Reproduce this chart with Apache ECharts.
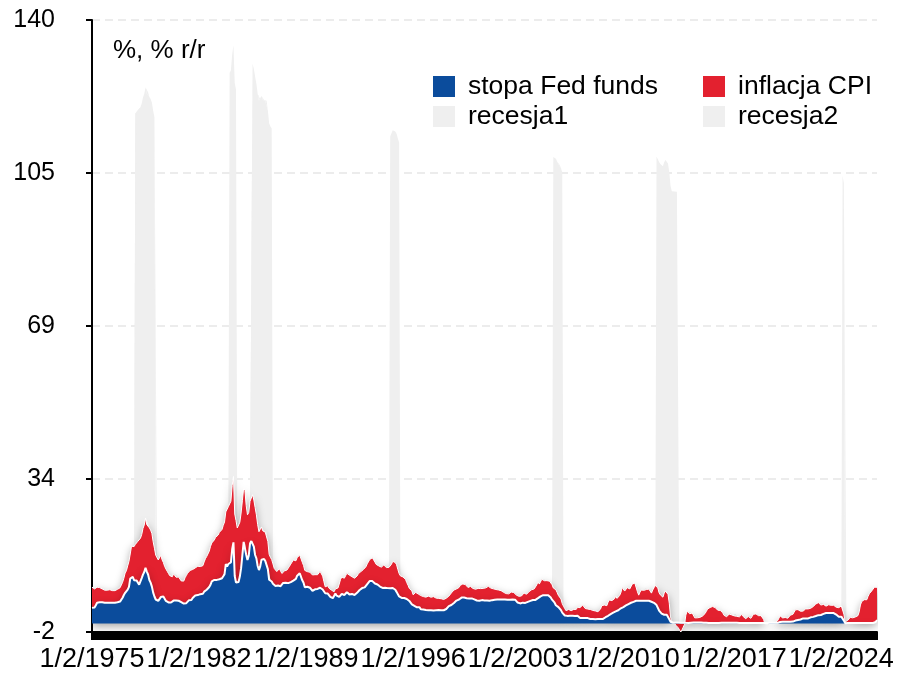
<!DOCTYPE html>
<html>
<head>
<meta charset="utf-8">
<script src="https://cdn.jsdelivr.net/npm/echarts@6/dist/echarts.min.js"></script>
<style>
  html, body { margin: 0; padding: 0; background: #ffffff; }
  #chart { width: 897px; height: 675px; }
</style>
</head>
<body>
<div id="chart"></div>
<script>
// Monthly series, one row per year (12 values), last row partial.
const fedFunds = [
  3.60, 3.60, 3.70, 4.20, 4.80, 4.90, 4.90, 4.90, 4.90, 4.90, 4.80, 4.80,
  4.80, 4.80, 4.80, 4.80, 4.80, 4.80, 4.80, 4.80, 4.90, 5.00, 5.06, 5.33,
  5.94, 6.58, 7.09, 7.12, 7.84, 8.49, 10.40, 10.50, 10.78, 10.01, 10.03, 9.95,
  9.65, 8.97, 9.35, 10.51, 11.31, 11.93, 12.92, 12.01, 11.34, 10.06, 9.45, 8.53,
  7.13, 6.24, 5.54, 5.49, 5.22, 5.55, 6.10, 6.14, 6.24, 5.82, 5.22, 5.20,
  4.87, 4.77, 4.84, 4.82, 5.29, 5.48, 5.31, 5.29, 5.25, 5.02, 4.95, 4.65,
  4.61, 4.68, 4.69, 4.73, 5.35, 5.39, 5.42, 5.90, 6.14, 6.47, 6.51, 6.56,
  6.70, 6.78, 6.79, 6.89, 7.36, 7.60, 7.81, 8.04, 8.45, 8.96, 9.76, 10.03,
  10.07, 10.06, 10.09, 10.01, 10.24, 10.29, 10.47, 10.94, 11.43, 13.77, 13.18, 13.78,
  13.82, 14.13, 17.19, 18.80, 10.98, 9.47, 9.03, 9.61, 10.87, 12.81, 15.85, 18.90,
  19.08, 15.93, 14.70, 15.72, 18.52, 19.10, 19.04, 17.82, 15.87, 15.08, 13.31, 12.37,
  13.22, 14.78, 14.68, 14.94, 14.45, 14.15, 12.59, 10.12, 10.31, 9.71, 9.20, 8.95,
  8.68, 8.51, 8.77, 8.80, 8.63, 8.98, 9.37, 9.56, 9.45, 9.48, 9.34, 9.47,
  9.56, 9.59, 9.91, 10.29, 10.32, 11.06, 11.23, 11.64, 11.30, 9.99, 9.43, 8.38,
  8.35, 8.50, 8.58, 8.27, 7.97, 7.53, 7.88, 7.90, 7.92, 7.99, 8.05, 8.27,
  8.14, 7.86, 7.48, 6.99, 6.85, 6.92, 6.56, 6.17, 5.89, 5.85, 6.04, 6.91,
  6.43, 6.10, 6.13, 6.37, 6.85, 6.73, 6.58, 6.73, 7.22, 7.29, 6.69, 6.77,
  6.83, 6.58, 6.58, 6.87, 7.09, 7.51, 7.75, 8.01, 8.19, 8.30, 8.35, 8.76,
  9.12, 9.36, 9.85, 9.84, 9.81, 9.53, 9.24, 8.99, 9.02, 8.84, 8.55, 8.45,
  8.23, 8.24, 8.28, 8.26, 8.18, 8.29, 8.15, 8.13, 8.20, 8.11, 7.81, 7.31,
  6.91, 6.25, 6.12, 5.91, 5.78, 5.90, 5.82, 5.66, 5.45, 5.21, 4.81, 4.43,
  4.03, 4.06, 3.98, 3.73, 3.82, 3.76, 3.25, 3.30, 3.22, 3.10, 3.09, 2.92,
  3.02, 3.03, 3.07, 2.96, 3.00, 3.04, 3.06, 3.03, 3.09, 2.99, 3.02, 2.96,
  3.05, 3.25, 3.34, 3.56, 4.01, 4.25, 4.26, 4.47, 4.73, 4.76, 5.29, 5.45,
  5.53, 5.92, 5.98, 6.05, 6.01, 6.00, 5.85, 5.74, 5.80, 5.76, 5.80, 5.60,
  5.56, 5.22, 5.31, 5.22, 5.24, 5.27, 5.40, 5.22, 5.30, 5.24, 5.31, 5.29,
  5.25, 5.19, 5.39, 5.51, 5.50, 5.56, 5.52, 5.54, 5.54, 5.50, 5.52, 5.50,
  5.56, 5.51, 5.49, 5.45, 5.49, 5.56, 5.54, 5.55, 5.51, 5.07, 4.83, 4.68,
  4.63, 4.76, 4.81, 4.74, 4.74, 4.76, 4.99, 5.07, 5.22, 5.20, 5.42, 5.30,
  5.45, 5.73, 5.85, 6.02, 6.27, 6.53, 6.54, 6.50, 6.52, 6.51, 6.51, 6.40,
  5.98, 5.49, 5.31, 4.80, 4.21, 3.97, 3.77, 3.65, 3.07, 2.49, 2.09, 1.82,
  1.73, 1.74, 1.73, 1.75, 1.75, 1.75, 1.73, 1.74, 1.75, 1.75, 1.34, 1.24,
  1.24, 1.26, 1.25, 1.26, 1.26, 1.22, 1.01, 1.03, 1.01, 1.01, 1.00, 0.98,
  1.00, 1.01, 1.00, 1.00, 1.00, 1.03, 1.26, 1.43, 1.61, 1.76, 1.93, 2.16,
  2.28, 2.50, 2.63, 2.79, 3.00, 3.04, 3.26, 3.50, 3.62, 3.78, 4.00, 4.16,
  4.29, 4.49, 4.59, 4.79, 4.94, 4.99, 5.24, 5.25, 5.25, 5.25, 5.25, 5.24,
  5.25, 5.26, 5.26, 5.25, 5.25, 5.25, 5.26, 5.02, 4.94, 4.76, 4.49, 4.24,
  3.94, 2.98, 2.61, 2.28, 1.98, 2.00, 2.01, 2.00, 1.81, 0.97, 0.39, 0.16,
  0.15, 0.22, 0.18, 0.15, 0.18, 0.21, 0.16, 0.16, 0.15, 0.12, 0.12, 0.12,
  0.11, 0.13, 0.16, 0.20, 0.20, 0.18, 0.18, 0.19, 0.19, 0.19, 0.19, 0.18,
  0.17, 0.16, 0.14, 0.10, 0.09, 0.09, 0.07, 0.10, 0.08, 0.07, 0.08, 0.07,
  0.08, 0.10, 0.13, 0.14, 0.16, 0.16, 0.16, 0.13, 0.14, 0.16, 0.16, 0.16,
  0.14, 0.15, 0.14, 0.15, 0.11, 0.09, 0.09, 0.08, 0.08, 0.09, 0.08, 0.09,
  0.07, 0.07, 0.08, 0.09, 0.09, 0.10, 0.09, 0.09, 0.09, 0.09, 0.09, 0.12,
  0.11, 0.11, 0.11, 0.12, 0.12, 0.13, 0.13, 0.14, 0.14, 0.12, 0.12, 0.24,
  0.34, 0.38, 0.36, 0.37, 0.37, 0.38, 0.39, 0.40, 0.40, 0.40, 0.41, 0.54,
  0.65, 0.66, 0.79, 0.90, 0.91, 1.04, 1.15, 1.16, 1.15, 1.15, 1.16, 1.30,
  1.41, 1.42, 1.51, 1.69, 1.70, 1.82, 1.91, 1.91, 1.95, 2.19, 2.20, 2.27,
  2.40, 2.40, 2.41, 2.42, 2.39, 2.38, 2.40, 2.13, 2.04, 1.83, 1.55, 1.55,
  1.55, 1.58, 0.65, 0.05, 0.05, 0.08, 0.09, 0.10, 0.09, 0.09, 0.09, 0.09,
  0.09, 0.08, 0.07, 0.07, 0.06, 0.08, 0.10, 0.09, 0.08, 0.08, 0.08, 0.08,
  0.08, 0.08, 0.20, 0.33, 0.77
];

const cpiInflation = [
  4.8, 4.6, 4.3, 4.0, 3.6, 3.6, 3.4, 3.3, 3.1, 3.0, 2.9, 2.9,
  2.9, 3.0, 3.0, 2.9, 2.8, 2.7, 2.8, 2.8, 3.0, 3.1, 3.2, 3.3,
  3.6, 3.9, 4.6, 5.1, 5.5, 5.9, 5.7, 7.4, 7.4, 7.8, 8.3, 8.7,
  9.4, 10.0, 10.4, 10.1, 10.7, 10.9, 11.5, 10.9, 11.9, 12.1, 12.2, 12.3,
  11.8, 11.2, 10.3, 10.2, 9.5, 9.4, 9.7, 8.6, 7.9, 7.4, 7.4, 6.9,
  6.7, 6.3, 6.1, 6.0, 6.2, 5.9, 5.4, 5.7, 5.5, 5.5, 4.9, 4.9,
  5.2, 5.9, 6.4, 6.9, 6.7, 6.9, 6.8, 6.6, 6.6, 6.4, 6.7, 6.7,
  6.8, 6.4, 6.4, 6.5, 6.9, 7.4, 7.7, 7.9, 8.3, 8.9, 8.9, 9.0,
  9.3, 9.9, 10.1, 10.5, 10.9, 10.9, 11.3, 11.8, 12.1, 12.1, 12.6, 13.3,
  13.9, 14.2, 14.8, 15.3, 14.4, 14.4, 13.1, 12.9, 12.6, 12.8, 12.6, 12.5,
  11.8, 11.4, 10.5, 10.0, 9.8, 9.5, 10.8, 10.8, 11.0, 10.1, 9.6, 8.9,
  8.4, 7.6, 6.8, 6.5, 6.7, 7.1, 6.4, 5.9, 5.0, 5.1, 4.6, 3.8,
  3.7, 3.5, 3.6, 3.9, 3.5, 2.6, 2.5, 2.6, 2.9, 2.9, 3.3, 3.8,
  4.2, 4.6, 4.8, 4.6, 4.2, 4.2, 4.2, 4.2, 4.2, 4.2, 4.0, 3.9,
  3.5, 3.5, 3.7, 3.6, 3.7, 3.7, 3.5, 3.4, 3.2, 3.3, 3.5, 3.8,
  3.9, 3.1, 2.2, 1.5, 1.5, 1.8, 1.6, 1.6, 1.8, 1.5, 1.3, 1.1,
  1.5, 2.1, 3.0, 3.8, 3.9, 3.7, 3.9, 4.3, 4.4, 4.5, 4.5, 4.4,
  4.0, 3.9, 3.9, 3.9, 3.9, 4.0, 4.1, 4.0, 4.2, 4.2, 4.2, 4.4,
  4.7, 4.8, 5.0, 5.1, 5.4, 5.2, 5.0, 4.7, 4.3, 4.5, 4.6, 4.6,
  5.2, 5.3, 5.2, 4.7, 4.4, 4.7, 4.8, 5.6, 6.2, 6.3, 6.3, 6.3,
  5.6, 5.3, 4.9, 4.9, 5.0, 4.7, 4.4, 3.8, 3.4, 2.9, 3.0, 3.1,
  2.6, 2.8, 3.2, 3.2, 3.0, 3.1, 3.2, 3.1, 3.0, 3.2, 3.0, 2.9,
  3.3, 3.2, 3.0, 3.2, 3.2, 3.0, 2.8, 2.8, 2.7, 2.8, 2.7, 2.7,
  2.5, 2.5, 2.5, 2.4, 2.3, 2.5, 2.8, 2.9, 3.0, 2.6, 2.7, 2.7,
  2.8, 2.9, 2.9, 3.1, 3.2, 3.0, 2.8, 2.6, 2.5, 2.8, 2.6, 2.5,
  2.7, 2.7, 2.8, 2.9, 2.9, 2.8, 3.0, 2.9, 3.0, 3.0, 3.3, 3.3,
  3.0, 3.0, 2.8, 2.5, 2.2, 2.3, 2.2, 2.2, 2.2, 2.1, 1.9, 1.7,
  1.6, 1.4, 1.4, 1.4, 1.7, 1.7, 1.7, 1.6, 1.5, 1.5, 1.5, 1.6,
  1.7, 1.6, 1.7, 2.3, 2.1, 2.0, 2.1, 2.3, 2.6, 2.6, 2.6, 2.7,
  2.8, 3.2, 3.8, 3.1, 3.2, 3.7, 3.7, 3.4, 3.5, 3.4, 3.4, 3.4,
  3.7, 3.5, 2.9, 3.3, 3.6, 3.2, 2.7, 2.7, 2.6, 2.1, 1.9, 1.6,
  1.2, 1.1, 1.5, 1.6, 1.2, 1.1, 1.5, 1.8, 1.5, 2.0, 2.2, 2.4,
  2.6, 3.0, 3.0, 2.2, 2.1, 2.1, 2.1, 2.2, 2.3, 2.0, 1.8, 1.9,
  1.9, 1.7, 1.7, 2.3, 3.1, 3.3, 3.0, 2.7, 2.5, 3.2, 3.5, 3.3,
  3.0, 3.0, 3.1, 3.5, 2.8, 2.5, 3.2, 3.6, 4.7, 4.3, 3.5, 3.4,
  4.0, 3.6, 3.4, 3.5, 4.2, 4.3, 4.1, 3.8, 2.1, 1.3, 2.0, 2.5,
  2.1, 2.4, 2.8, 2.6, 2.7, 2.7, 2.4, 2.0, 2.8, 3.5, 4.3, 4.1,
  4.3, 4.1, 4.0, 3.9, 4.1, 5.0, 5.5, 5.4, 4.9, 3.7, 1.1, 0.1,
  0.0, 0.0, -0.4, -0.6, -1.0, -1.4, -2.0, -1.5, -1.3, -0.2, 1.8, 2.7,
  2.6, 2.1, 2.3, 2.2, 2.0, 1.1, 1.2, 1.1, 1.1, 1.2, 1.1, 1.5,
  1.6, 2.1, 2.6, 3.2, 3.6, 3.6, 3.6, 3.8, 3.9, 3.6, 3.4, 3.0,
  2.9, 2.9, 2.7, 2.3, 1.7, 1.7, 1.4, 1.7, 2.0, 2.2, 1.8, 1.7,
  1.6, 2.0, 1.5, 1.1, 1.4, 1.8, 2.0, 1.5, 1.2, 1.0, 1.2, 1.5,
  1.6, 1.1, 1.5, 2.0, 2.1, 2.1, 2.0, 1.7, 1.7, 1.7, 1.3, 0.8,
  -0.1, -0.1, -0.1, -0.2, 0.0, 0.1, 0.2, 0.2, 0.0, 0.1, 0.5, 0.7,
  1.4, 1.0, 0.9, 1.1, 1.0, 1.0, 0.8, 1.1, 1.5, 1.6, 1.7, 2.1,
  2.5, 2.7, 2.4, 2.2, 1.9, 1.6, 1.7, 1.9, 2.2, 2.0, 2.2, 2.1,
  2.1, 2.2, 2.4, 2.5, 2.8, 2.9, 2.9, 2.7, 2.3, 2.5, 2.2, 1.9,
  1.6, 1.5, 1.9, 2.0, 1.8, 1.6, 1.8, 1.7, 1.7, 1.8, 2.1, 2.3,
  2.5, 2.3, 1.5, 0.3, 0.1, 0.6, 1.0, 1.3, 1.4, 1.2, 1.2, 1.4,
  1.4, 1.7, 2.6, 4.2, 5.0, 5.4, 5.4, 5.3, 5.4, 6.2, 6.8, 7.0,
  7.5, 7.9, 8.2, 7.8, 7.6
];

// Recession spans as [first month index, last month index] into the series above.
const recessionSpans1 = [[34, 49], [126, 141], [362, 369], [589, 590]];
const recessionSpans2 = [[108, 113], [234, 241], [443, 460]];
const recessionHeight = 100;

// Category labels: one per month.
const firstLabelYear = 1975;
const firstLabelMonth = 2;
const labelStepMonths = 84;

const yMin = -2, yMax = 140, yStep = 35.5;

const BLUE = '#0b4c9c';
const RED = '#e3212f';
const GRAY = '#efefef';
const FONT = '"Liberation Sans", Arial, Helvetica, sans-serif';

const categories = fedFunds.map((_, i) => {
  const m0 = firstLabelMonth - 1 + i;
  const y = firstLabelYear + Math.floor(m0 / 12);
  const m = (m0 % 12) + 1;
  return '1/' + m + '/' + y;
});

function recessionSeriesData(spans) {
  return fedFunds.map((_, i) =>
    spans.some(([a, b]) => i >= a && i <= b) ? recessionHeight : 0);
}

const chart = echarts.init(document.getElementById('chart'), null, { renderer: 'canvas' });

const areaShadow = {
  shadowBlur: 8,
  shadowColor: 'rgba(0,0,0,0.35)',
  shadowOffsetY: 3
};

const legendBase = {
  top: 68, orient: 'vertical', itemGap: 3,
  itemWidth: 22, itemHeight: 21, icon: 'rect',
  itemStyle: { borderWidth: 0 },
  selectedMode: false,
  textStyle: { fontSize: 26.5, color: '#000', fontFamily: FONT, padding: [0, 0, 0, 8] }
};

chart.setOption({
  animation: false,
  backgroundColor: '#ffffff',
  textStyle: { fontFamily: FONT },
  grid: { left: 92, right: 20, top: 20, bottom: 43, containLabel: false },
  legend: [
    Object.assign({ left: 428, data: ['stopa Fed funds', 'recesja1'] }, legendBase),
    Object.assign({ left: 698, data: ['inflacja CPI', 'recesja2'] }, legendBase)
  ],
  graphic: [{
    type: 'text', left: 113, top: 38, silent: true,
    style: { text: '%, % r/r', fill: '#000', font: '26px ' + FONT }
  }],
  xAxis: {
    type: 'category',
    boundaryGap: false,
    data: categories,
    axisLine: { onZero: false, lineStyle: { color: '#000', width: 2 } },
    axisTick: { show: true, interval: 0, length: 8, lineStyle: { color: '#000', width: 2 } },
    axisLabel: { interval: labelStepMonths - 1, color: '#000', fontSize: 27, margin: 14, fontFamily: FONT },
    splitLine: { show: false }
  },
  yAxis: {
    type: 'value',
    min: yMin, max: yMax, interval: yStep,
    axisLine: { show: true, lineStyle: { color: '#000', width: 2 } },
    axisTick: { show: true, length: 6, lineStyle: { color: '#000', width: 2 } },
    axisLabel: {
      color: '#000', fontSize: 25, margin: 37, fontFamily: FONT,
      formatter: v => String(Math.round(v))
    },
    splitLine: { show: true, lineStyle: { color: '#e6e6e6', width: 1.5, type: [8, 5] } }
  },
  series: [
    {
      name: 'stopa Fed funds', type: 'line', stack: 'total', z: 4,
      data: fedFunds, symbol: 'none', showSymbol: false,
      itemStyle: { color: BLUE },
      lineStyle: { color: '#ffffff', width: 2 },
      areaStyle: Object.assign({ color: BLUE, opacity: 1 }, areaShadow)
    },
    {
      name: 'inflacja CPI', type: 'line', stack: 'total', z: 3,
      data: cpiInflation, symbol: 'none', showSymbol: false,
      itemStyle: { color: RED },
      lineStyle: { color: '#ffffff', width: 1 },
      areaStyle: Object.assign({ color: RED, opacity: 1 }, areaShadow)
    },
    {
      name: 'recesja1', type: 'line', stack: 'total', z: 2,
      data: recessionSeriesData(recessionSpans1), symbol: 'none', showSymbol: false,
      itemStyle: { color: GRAY },
      lineStyle: { width: 0, color: GRAY },
      areaStyle: { color: GRAY, opacity: 1 }
    },
    {
      name: 'recesja2', type: 'line', stack: 'total', z: 2,
      data: recessionSeriesData(recessionSpans2), symbol: 'none', showSymbol: false,
      itemStyle: { color: GRAY },
      lineStyle: { width: 0, color: GRAY },
      areaStyle: { color: GRAY, opacity: 1 }
    }
  ]
});
</script>
</body>
</html>
